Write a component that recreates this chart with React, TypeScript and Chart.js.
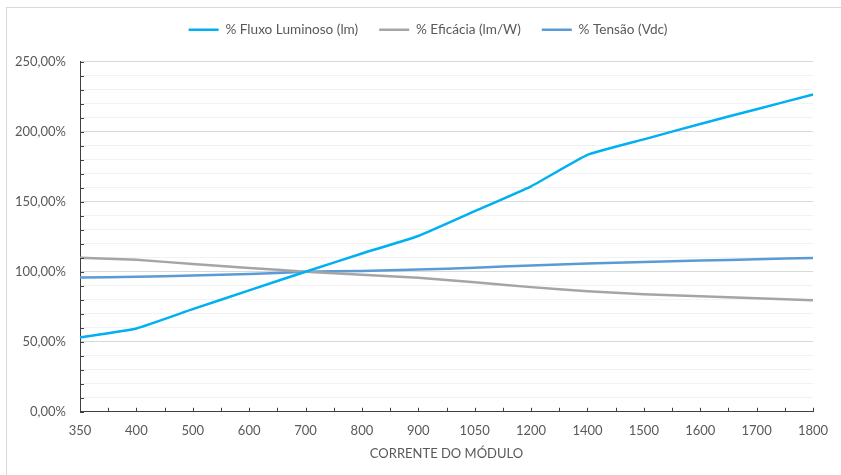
import React, { useEffect, useRef } from "react";
import { Chart, registerables } from "chart.js";

Chart.register(...registerables);

const categories = ["350", "400", "500", "600", "700", "800", "900", "1050", "1200", "1400", "1500", "1600", "1700", "1800"];
const fluxo = [53, 59.5, 73.3, 86.7, 100, 113, 125.5, 143.2, 161, 183.4, 194.5, 205.5, 216, 226.5];
const eficacia = [110, 108.5, 105.5, 102.7, 100, 97.8, 95.7, 92.4, 89, 86, 84, 82.5, 81, 79.7];
const tensao = [95.8, 96.4, 97.3, 98.3, 100, 100.6, 101.5, 102.8, 104.5, 105.8, 107, 108, 108.9, 109.8];
const seriesNames = ["% Fluxo Luminoso (lm)", "% Eficácia (lm/W)", "% Tensão (Vdc)"];
const xTitle = "CORRENTE DO MÓDULO";
const yMax = 250;
const yStep = 10;
const yLabelStep = 50;

const FONT = "Lato";
const TEXT = "#595959";

const innerTicks = {
  id: "innerTicks",
  afterDraw(chart: any) {
    const { ctx, chartArea, scales } = chart;
    const x = scales.x;
    const y = scales.y;
    ctx.save();
    ctx.strokeStyle = "#404040";
    ctx.lineWidth = 1;
    ctx.beginPath();
    for (let v = 0; v <= yMax; v += yStep) {
      const py = Math.round(y.getPixelForValue(v)) + 0.5;
      ctx.moveTo(chartArea.left, py);
      ctx.lineTo(chartArea.left + 4, py);
    }
    for (let i = 0; i < categories.length; i++) {
      const px = Math.round(x.getPixelForValue(i)) + 0.5;
      ctx.moveTo(px, chartArea.bottom);
      ctx.lineTo(px, chartArea.bottom - 4);
      if (i < categories.length - 1) {
        const pm = Math.round(x.getPixelForValue(i + 0.5)) + 0.5;
        ctx.moveTo(pm, chartArea.bottom);
        ctx.lineTo(pm, chartArea.bottom - 4);
      }
    }
    ctx.stroke();
    ctx.restore();
  },
};

const legendMargin = {
  id: "legendMargin",
  beforeInit(chart: any) {
    const legend = chart.legend;
    if (!legend) return;
    const orig = legend.fit;
    legend.fit = function () {
      orig.call(this);
      this.height += 15;
    };
  },
  afterLayout(chart: any) {
    const legend = chart.legend;
    if (!legend) return;
    legend.left += 21.5;
    legend.right += 21.5;
  },
};

export default function App() {
  const ref = useRef<HTMLCanvasElement | null>(null);
  useEffect(() => {
    if (!ref.current) return;
    const mk = (label: string, data: number[], color: string) => ({
      label,
      data,
      borderColor: color,
      backgroundColor: color,
      borderWidth: 2.5,
      pointRadius: 0,
      pointHoverRadius: 0,
      tension: 0.12,
      fill: false,
    });
    const chart = new Chart(ref.current, {
      type: "line",
      data: {
        labels: categories,
        datasets: [
          mk(seriesNames[0], fluxo, "#00B0F0"),
          mk(seriesNames[1], eficacia, "#A5A5A5"),
          mk(seriesNames[2], tensao, "#5B9BD5"),
        ],
      },
      plugins: [innerTicks, legendMargin],
      options: {
        animation: false,
        responsive: true,
        maintainAspectRatio: false,
        layout: { padding: { top: 2, right: 28, bottom: 13, left: 0 } },
        plugins: {
          tooltip: { enabled: false },
          legend: {
            position: "top",
            labels: {
              usePointStyle: true,
              pointStyle: "line",
              pointStyleWidth: 30,
              boxWidth: 30,
              padding: 21,
              color: TEXT,
              font: { family: FONT, size: 13.6 },
            },
          },
        },
        scales: {
          x: {
            type: "category",
            offset: false,
            grid: { display: false, drawTicks: false },
            border: { display: true, color: "#404040", width: 1 },
            ticks: {
              color: TEXT,
              font: { family: FONT, size: 13 },
              padding: 11,
              maxRotation: 0,
              autoSkip: false,
            },
            title: {
              display: true,
              text: xTitle,
              color: TEXT,
              font: { family: FONT, size: 13 },
              padding: { top: -3, bottom: 0 },
            },
          },
          y: {
            min: 0,
            max: yMax,
            afterFit(scale: any) {
              scale.width = 80;
            },
            grid: {
              drawTicks: false,
              color: (c: any) => (c.tick && c.tick.value % yLabelStep === 0 ? "#D9D9D9" : "#F2F2F2"),
              lineWidth: 1,
            },
            border: { display: true, color: "#404040", width: 1 },
            ticks: {
              stepSize: yStep,
              autoSkip: false,
              color: TEXT,
              font: { family: FONT, size: 13 },
              padding: 14,
              callback: (v: any) =>
                Number(v) % yLabelStep === 0 ? Number(v).toFixed(2).replace(".", ",") + "%" : "",
            },
          },
        },
      },
    });
    return () => chart.destroy();
  }, []);
  return (
    <div style={{ position: "fixed", left: 0, top: 0, width: 841, height: 475, background: "#fff", overflow: "hidden" }}>
      <div
        style={{
          position: "absolute",
          left: 6,
          top: 7,
          width: 860,
          height: 490,
          border: "1px solid #D9D9D9",
          boxSizing: "border-box",
        }}
      />
      <div style={{ position: "absolute", left: 0, top: 0, width: 841, height: 475 }}>
        <canvas ref={ref} />
      </div>
    </div>
  );
}
